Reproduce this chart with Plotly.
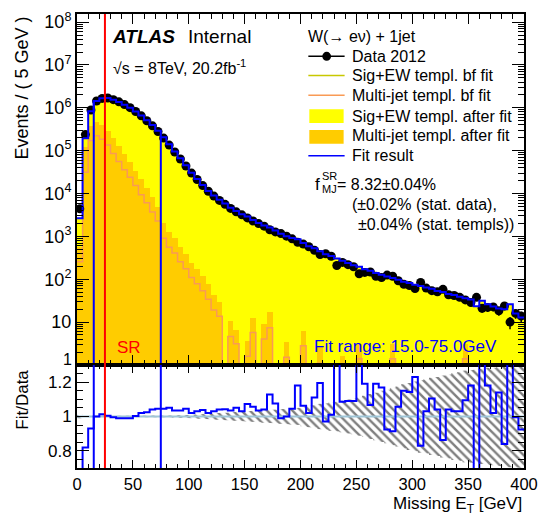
import numpy as np
import plotly.graph_objects as go

# ---------------- data ----------------
bin_width = 5
x_min, x_max = 0, 400
sr_cut = 25
fit_range = [15, 75]

# Data 2012 events per 5 GeV bin (0-5, 5-10, ..., 395-400)
data_counts = [
    4.4e3, 2.37e5, 8.9e5, 1.44e6, 1.66e6, 1.70e6, 1.55e6, 1.38e6, 1.19e6, 1.01e6,
    8.2e5, 6.5e5, 5.0e5, 3.8e5, 2.8e5, 1.97e5, 1.35e5, 9.3e4, 6.4e4, 4.4e4,
    3.0e4, 2.12e4, 1.53e4, 1.13e4, 8.7e3, 6.9e3, 5.6e3, 4.5e3, 3.74e3, 3.18e3,
    2.70e3, 2.29e3, 1.99e3, 1.73e3, 1.43e3, 1.27e3, 1.16e3, 1.01e3, 875, 726,
    661, 574, 475, 377, 394, 343, 209, 247, 219, 195,
    134, 144, 147, 117, 109, 125, 117, 92, 76, 71,
    60.5, 84, 62, 54, 51, 58, 43.5, 41.6, 37.8, 32.9,
    28.6, 37.8, 21, 22, 22.6, 18.3, 23.7, 10, 15.9, 13.8,
]

# Fit / Data ratio per bin (lower panel)
fit_over_data = [
    0.60, 0.82, 0.93, 1.000, 1.013, 1.004, 0.995, 0.990, 0.990, 0.990,
    1.002, 1.020, 1.025, 1.040, 1.045, 1.045, 1.050, 1.035, 1.035, 1.045,
    1.020, 1.030, 1.038, 1.020, 1.030, 1.040, 1.042, 1.035, 1.050, 1.030,
    1.072, 1.057, 1.035, 1.040, 1.128, 1.076, 0.990, 1.000, 1.045, 1.180,
    1.063, 1.020, 1.110, 1.195, 0.970, 1.010, 1.450, 1.086, 1.090, 1.090,
    1.450, 1.190, 1.067, 1.190, 1.168, 0.924, 0.914, 1.057, 1.149, 1.143,
    1.229, 0.830, 1.030, 1.105, 1.040, 0.863, 1.040, 1.030, 1.030, 1.095,
    1.180, 0.620, 1.500, 1.180, 1.020, 1.140, 0.840, 2.600, 0.996, 0.924,
]

# Multi-jet template after fit (filled orange)
mj_after_fit = [
    560, 1.23e5, 3.77e5, 4.66e5, 4.02e5, 2.87e5, 1.99e5, 1.29e5, 8.3e4, 5.3e4,
    3.37e4, 2.15e4, 1.36e4, 8.2e3, 4.9e3, 2.06e3, 1.25e3, 900, 560, 389,
    242, 175, 120, 75.5, 42.8, 29.7, 0, 10.4, 6.7, 0,
    3.6, 12.5, 0, 8.8, 16.8, 0, 0, 3.4, 0, 0,
    6.2, 0, 0, 2.55, 0, 0, 0, 1.6, 0, 0,
    3.05, 0, 0, 0, 0, 0, 3.05, 0, 0, 0,
    0, 0, 0, 0, 0, 0, 0, 0, 0, 3.05,
    0, 0, 0, 0, 0, 0, 0, 0, 0, 0,
]

# Multi-jet template before fit (orange line)
mj_before_fit = [
    254, 3.13e4, 1.73e5, 2.24e5, 1.86e5, 1.36e5, 8.6e4, 5.6e4, 3.6e4, 2.39e4,
    1.54e4, 9.4e3, 6.1e3, 3.7e3, 2.29e3, 900, 560, 411, 254, 175,
    109, 78, 53.7, 34, 19, 13.6, 0, 4.6, 3.1, 0,
    1.6, 5.7, 0, 4.0, 7.4, 0, 0, 1.5, 0, 0,
    2.8, 0, 0, 1.1, 0, 0, 0, 0.7, 0, 0,
    1.4, 0, 0, 0, 0, 0, 1.4, 0, 0, 0,
    0, 0, 0, 0, 0, 0, 0, 0, 0, 1.4,
    0, 0, 0, 0, 0, 0, 0, 0, 0, 0,
]

# relative statistical uncertainty band (hatched, lower panel)
stat_band = [
    0.010, 0.003, 0.002, 0.002, 0.002, 0.002, 0.002, 0.002, 0.002, 0.002,
    0.003, 0.003, 0.003, 0.004, 0.004, 0.005, 0.005, 0.006, 0.007, 0.008,
    0.010, 0.012, 0.014, 0.016, 0.018, 0.020, 0.022, 0.024, 0.026, 0.028,
    0.030, 0.032, 0.034, 0.036, 0.038, 0.040, 0.042, 0.045, 0.047, 0.050,
    0.057, 0.062, 0.066, 0.073, 0.077, 0.083, 0.087, 0.092, 0.099, 0.104,
    0.112, 0.120, 0.131, 0.138, 0.149, 0.156, 0.167, 0.175, 0.187, 0.195,
    0.203, 0.211, 0.216, 0.225, 0.230, 0.239, 0.244, 0.253, 0.258, 0.266,
    0.270, 0.275, 0.277, 0.283, 0.284, 0.289, 0.290, 0.295, 0.296, 0.300,
]

y_tick_vals = [10, 1e2, 1e3, 1e4, 1e5, 1e6, 1e7, 1e8]
y_tick_text = ["10", "10<sup>2</sup>", "10<sup>3</sup>", "10<sup>4</sup>",
               "10<sup>5</sup>", "10<sup>6</sup>", "10<sup>7</sup>", "10<sup>8</sup>"]
r_tick_vals = [0.8, 1.0, 1.2]
r_tick_text = ["0.8", "1", "1.2"]

# ---------------- derived ----------------
data = np.array(data_counts, float)
ratio = np.array(fit_over_data, float)
fit = data * ratio
mj_a = np.array(mj_after_fit, float)
mj_b = np.array(mj_before_fit, float)
band = np.array(stat_band, float)
nb = len(data)
edges = x_min + bin_width * np.arange(nb + 1)
centers = edges[:-1] + bin_width / 2

def step_y(v):
    return list(v) + [v[-1]]

floor = 1e-3
mj_b_disp = np.where(mj_b > 0, mj_b, floor)
mj_a_bar = [v if v > 0 else None for v in mj_a]

FONT = "Liberation Sans, Arial, Helvetica, sans-serif"
YELLOW = "#ffff00"
ORANGE = "#ffcc00"
ORANGE_LINE = "#f99a55"
OLIVE = "#c8c800"
BLUE = "#0000ff"
RED = "#ff0000"

fig = go.Figure()

fig.add_trace(go.Bar(x=centers, y=fit, width=bin_width, marker=dict(color=YELLOW, line=dict(width=0)),
                     xaxis="x", yaxis="y", showlegend=False))
fig.add_trace(go.Bar(x=centers, y=mj_a_bar, width=bin_width, marker=dict(color=ORANGE, line=dict(width=0)),
                     xaxis="x", yaxis="y", showlegend=False))
fig.add_trace(go.Scatter(x=edges, y=step_y(mj_b_disp), mode="lines", line=dict(color=ORANGE_LINE, width=1.5, shape="hv"),
                         xaxis="x", yaxis="y", showlegend=False))
fig.add_trace(go.Scatter(x=centers, y=data, mode="markers",
                         marker=dict(color="black", size=9, symbol="circle"),
                         error_y=dict(type="data", array=np.sqrt(data), color="black", thickness=1.5, width=0),
                         xaxis="x", yaxis="y", showlegend=False))
fig.add_trace(go.Scatter(x=edges, y=step_y(fit), mode="lines", line=dict(color=BLUE, width=2, shape="hv"),
                         xaxis="x", yaxis="y", showlegend=False))
for fr in fit_range:
    idx = int((fr - x_min) // bin_width)
    fig.add_trace(go.Scatter(x=[fr, fr], y=[1, fit[idx]], mode="lines", line=dict(color=BLUE, width=2),
                             xaxis="x", yaxis="y", showlegend=False))

# ratio panel: hatched band
bx, by = [], []
for i in range(nb):
    bx += [edges[i], edges[i + 1]]
    by += [1 + band[i], 1 + band[i]]
for i in reversed(range(nb)):
    bx += [edges[i + 1], edges[i]]
    by += [1 - band[i], 1 - band[i]]
fig.add_trace(go.Scatter(x=bx, y=by, mode="lines", fill="toself", line=dict(width=0, color="rgba(0,0,0,0)"),
                         fillcolor="rgba(0,0,0,0)",
                         fillpattern=dict(shape="\\", fgcolor="black", bgcolor="rgba(0,0,0,0)", size=6, solidity=0.4),
                         xaxis="x2", yaxis="y2", showlegend=False, hoverinfo="skip"))
fig.add_trace(go.Scatter(x=[x_min, x_max], y=[1, 1], mode="lines", line=dict(color="#9fc6d8", width=2),
                         xaxis="x2", yaxis="y2", showlegend=False))
fig.add_trace(go.Scatter(x=edges, y=step_y(ratio), mode="lines", line=dict(color=BLUE, width=2, shape="hv"),
                         xaxis="x2", yaxis="y2", showlegend=False))

# ---------------- layout ----------------
W, H = 548, 523
PL, PR, PT, PB = 77, 533, 10, 468
split = (PB - 364) / (PB - PT)

def px(x):
    return (x - PL) / (PR - PL)

def py(y):
    return (PB - y) / (PB - PT)

axis_common = dict(showline=True, linewidth=2, linecolor="black", mirror="allticks", showgrid=False,
                   zeroline=False, tickcolor="black", ticklabeloverflow="allow",
                   tickfont=dict(family=FONT, size=17, color="black"))

minor_log = [m * 10 ** k for k in range(9) for m in range(2, 10)]

fig.update_layout(
    width=W, height=H, autosize=False,
    margin=dict(l=PL, r=W - PR, t=PT, b=H - PB),
    paper_bgcolor="white", plot_bgcolor="white",
    barmode="overlay", bargap=0,
    font=dict(family=FONT, color="black"),
    xaxis=dict(domain=[0, 1], anchor="y", range=[x_min, x_max], matches="x2", showticklabels=False,
               ticks="inside", ticklen=10, tickwidth=1, tick0=0, dtick=50,
               minor=dict(ticks="inside", ticklen=5, dtick=10, tick0=0, tickcolor="black"), **axis_common),
    yaxis=dict(domain=[split, 1], anchor="x", type="log", range=[0, 8.19],
               tickmode="array", tickvals=y_tick_vals, ticktext=y_tick_text,
               ticks="inside", ticklen=12, tickwidth=1,
               minor=dict(ticks="inside", ticklen=6, tickmode="array", tickvals=minor_log, tickcolor="black"),
               **{**axis_common, "tickfont": dict(family=FONT, size=18, color="black")}),
    xaxis2=dict(domain=[0, 1], anchor="y2", range=[x_min, x_max],
                ticks="inside", ticklen=8, tickwidth=1, tick0=0, dtick=50,
                minor=dict(ticks="inside", ticklen=4, dtick=10, tick0=0, tickcolor="black"),
                **{**axis_common, "tickfont": dict(family=FONT, size=16.5, color="black")}),
    yaxis2=dict(domain=[0, split], anchor="x2", range=[0.7, 1.3],
                tickmode="array", tickvals=r_tick_vals, ticktext=r_tick_text,
                ticks="inside", ticklen=12, tickwidth=1,
                minor=dict(ticks="inside", ticklen=6, tickmode="array",
                           tickvals=[0.75, 0.85, 0.9, 0.95, 1.05, 1.1, 1.15, 1.25], tickcolor="black"),
                **axis_common),
)

shapes = []
shapes.append(dict(type="line", xref="x", yref="paper", x0=sr_cut, x1=sr_cut, y0=0, y1=1,
                   line=dict(color=RED, width=2), layer="above"))
for fr in fit_range:
    shapes.append(dict(type="line", xref="x2", yref="y2 domain", x0=fr, x1=fr, y0=0, y1=1,
                       line=dict(color=BLUE, width=2), layer="above"))

LX0, LX1 = 313, 350
shapes.append(dict(type="line", xref="paper", yref="paper", x0=px(LX0), x1=px(LX1), y0=py(52.7), y1=py(52.7),
                   line=dict(color="black", width=1.5)))
shapes.append(dict(type="circle", xref="paper", yref="paper", x0=px(327.2), x1=px(336.2), y0=py(57.2), y1=py(48.2),
                   fillcolor="black", line=dict(color="black", width=0)))
shapes.append(dict(type="line", xref="paper", yref="paper", x0=px(LX0), x1=px(LX1), y0=py(72), y1=py(72),
                   line=dict(color=OLIVE, width=1.5)))
shapes.append(dict(type="line", xref="paper", yref="paper", x0=px(LX0), x1=px(LX1), y0=py(92), y1=py(92),
                   line=dict(color=ORANGE_LINE, width=1.5)))
shapes.append(dict(type="rect", xref="paper", yref="paper", x0=px(314), x1=px(349), y0=py(120), y1=py(106),
                   fillcolor=YELLOW, line=dict(width=0)))
shapes.append(dict(type="rect", xref="paper", yref="paper", x0=px(314), x1=px(349), y0=py(141), y1=py(127),
                   fillcolor=ORANGE, line=dict(width=0)))
shapes.append(dict(type="line", xref="paper", yref="paper", x0=px(LX0), x1=px(LX1), y0=py(153), y1=py(153),
                   line=dict(color=BLUE, width=1.5)))
fig.update_layout(shapes=shapes)

ann = []

def text(x, y, s, size=16, color="black", anchor="left", angle=0):
    ann.append(dict(xref="paper", yref="paper", x=px(x), y=py(y), text=s, showarrow=False,
                    xanchor=anchor, yanchor="middle", textangle=angle,
                    font=dict(family=FONT, size=size, color=color)))

text(111, 33, "<b><i>ATLAS</i></b>", size=19)
text(188, 33, "Internal", size=19)
text(112, 63, "√s = 8TeV, 20.2fb<sup>-1</sup>", size=16)
text(311, 33, "W(→ eν) + 1jet", size=16)
text(355, 53, "Data 2012", size=16)
text(355, 72, "Sig+EW templ. bf fit", size=16)
text(355, 92, "Multi-jet templ. bf fit", size=16)
text(355, 113, "Sig+EW templ. after fit", size=16)
text(355, 133, "Multi-jet templ. after fit", size=16)
text(355, 153, "Fit result", size=16)
text(318, 182, "f", size=17)
text(325, 173, "SR", size=11)
text(325, 187, "MJ", size=11)
text(340, 182, "= 8.32±0.04%", size=16)
text(356, 202, "(±0.02% (stat. data),", size=16)
text(362, 222, "±0.04% (stat. templs))", size=16)
text(116, 346, "SR", size=17, color=RED)
text(317, 345, "Fit range: 15.0-75.0GeV", size=17, color=BLUE)
text(74, 359, "1", size=16, anchor="right")
text(21, 85, "Events / ( 5 GeV )", size=18, anchor="center", angle=-90)
text(22, 399, "Fit/Data", size=17, anchor="center", angle=-90)
text(533, 505, "Missing E<sub>T</sub> [GeV]", size=17, anchor="right")
fig.update_layout(annotations=ann)

fig.write_html("out.html", config={"displayModeBar": False},
               post_script="document.body.style.margin='0';document.body.style.padding='0';document.body.style.overflow='hidden';")
